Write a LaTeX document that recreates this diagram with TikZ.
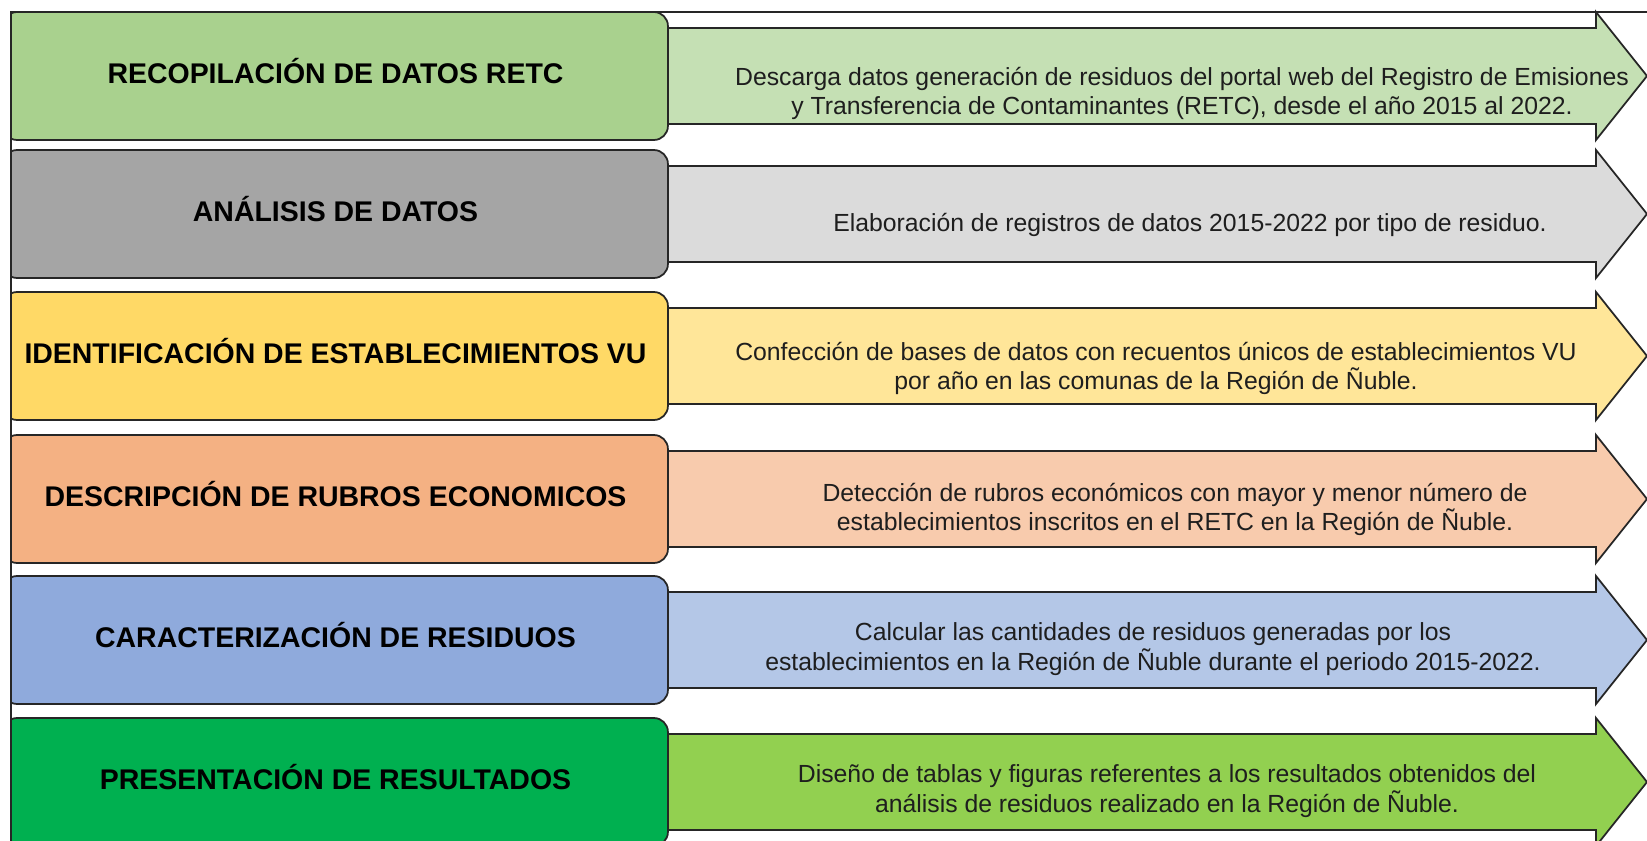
\documentclass[tikz,border=0pt]{standalone}
\usepackage{fontspec}
\setmainfont{Liberation Sans}
\usepackage{xcolor}
\usepackage{tikz}

\definecolor{linea}{HTML}{262626}
\definecolor{textogris}{HTML}{1E1E1E}
\definecolor{recopA}{HTML}{A9D18E}
\definecolor{recopB}{HTML}{C5E0B4}
\definecolor{analisA}{HTML}{A5A5A5}
\definecolor{analisB}{HTML}{DBDBDB}
\definecolor{identA}{HTML}{FFD966}
\definecolor{identB}{HTML}{FFE699}
\definecolor{rubroA}{HTML}{F4B183}
\definecolor{rubroB}{HTML}{F8CBAD}
\definecolor{caracA}{HTML}{8FAADC}
\definecolor{caracB}{HTML}{B4C7E7}
\definecolor{presA}{HTML}{00B050}
\definecolor{presB}{HTML}{92D050}

\begin{document}
\begin{tikzpicture}[x=0.02cm, y=-0.02cm,
		etapa/.style={rectangle, draw=linea, line width=1pt, rounded corners=0.28cm,
			minimum width=13.3cm, minimum height=2.56cm, inner sep=0pt,
			text height=11.6pt, text depth=3.4pt,
			font=\fontsize{16.2}{19}\selectfont\bfseries},
		flecha/.style={draw=linea, line width=1pt, line join=miter},
		texto/.style={align=center, text=textogris, inner sep=0pt,
			font=\fontsize{14.1}{17}\selectfont}]
			\useasboundingbox (0,0) rectangle (1647,841);
			\begin{scope}
			\clip (11,0) rectangle (1647,841);
			% recopilacion
			\draw[flecha, fill=recopB] (668,28) -- ++(928,0) -- ++(0,-16) -- ++(51,64) -- ++(-51,64) -- ++(0,-16) -- ++(-928,0) -- cycle;
			\node[etapa, fill=recopA] at (335.5,76) (recop){RECOPILACIÓN DE DATOS RETC};
			\node[texto] at (1182,93.5) (recopT){Descarga datos generación de residuos del portal web del Registro de Emisiones\\y Transferencia de Contaminantes (RETC), desde el año 2015 al 2022.};
			% analisis
			\draw[flecha, fill=analisB] (668,166) -- ++(928,0) -- ++(0,-16) -- ++(51,64) -- ++(-51,64) -- ++(0,-16) -- ++(-928,0) -- cycle;
			\node[etapa, fill=analisA] at (335.5,214) (analis){ANÁLISIS DE DATOS};
			\node[texto] at (1190,224.5) (analisT){Elaboración de registros de datos 2015-2022 por tipo de residuo.};
			% identificacion
			\draw[flecha, fill=identB] (668,308) -- ++(928,0) -- ++(0,-16) -- ++(51,64) -- ++(-51,64) -- ++(0,-16) -- ++(-928,0) -- cycle;
			\node[etapa, fill=identA] at (335.5,356) (ident){IDENTIFICACIÓN DE ESTABLECIMIENTOS VU};
			\node[texto] at (1156,368.5) (identT){Confección de bases de datos con recuentos únicos de establecimientos VU\\por año en las comunas de la Región de Ñuble.};
			% rubros
			\draw[flecha, fill=rubroB] (668,451) -- ++(928,0) -- ++(0,-16) -- ++(51,64) -- ++(-51,64) -- ++(0,-16) -- ++(-928,0) -- cycle;
			\node[etapa, fill=rubroA] at (335.5,499) (rubro){DESCRIPCIÓN DE RUBROS ECONOMICOS};
			\node[texto] at (1175,509.5) (rubroT){Detección de rubros económicos con mayor y menor número de\\establecimientos inscritos en el RETC en la Región de Ñuble.};
			% caracterizacion
			\draw[flecha, fill=caracB] (668,592) -- ++(928,0) -- ++(0,-16) -- ++(51,64) -- ++(-51,64) -- ++(0,-16) -- ++(-928,0) -- cycle;
			\node[etapa, fill=caracA] at (335.5,640) (carac){CARACTERIZACIÓN DE RESIDUOS};
			\node[texto] at (1153,649.5) (caracT){Calcular las cantidades de residuos generadas por los\\establecimientos en la Región de Ñuble durante el periodo 2015-2022.};
			% presentacion
			\draw[flecha, fill=presB] (668,734) -- ++(928,0) -- ++(0,-16) -- ++(51,64) -- ++(-51,64) -- ++(0,-16) -- ++(-928,0) -- cycle;
			\node[etapa, fill=presA] at (335.5,782) (pres){PRESENTACIÓN DE RESULTADOS};
			\node[texto] at (1167,791.5) (presT){Diseño de tablas y figuras referentes a los resultados obtenidos del\\análisis de residuos realizado en la Región de Ñuble.};
			\end{scope}
			% marco
			\draw[linea, line width=0.8pt] (11,841) -- (11,12) -- (1647,12);
		\end{tikzpicture}
\end{document}
